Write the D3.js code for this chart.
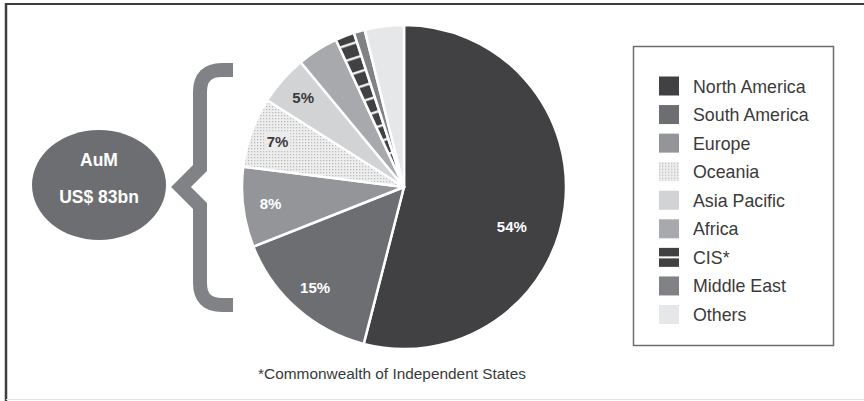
<!DOCTYPE html>
<html>
<head>
<meta charset="utf-8">
<script src="https://cdn.jsdelivr.net/npm/d3@7"></script>
<style>
  html, body { margin: 0; padding: 0; background: #fff; }
  svg { display: block; font-family: "Liberation Sans", Arial, sans-serif; }
</style>
</head>
<body>
<div id="chart"></div>
<script>
// --- Data ---
const regions = ["North America", "South America", "Europe", "Oceania", "Asia Pacific", "Africa", "CIS*", "Middle East", "Others"];
const shares = [54, 15, 8, 7, 5, 4.1, 1.9, 1.1, 3.9];
const sliceLabels = ["54%", "15%", "8%", "7%", "5%", "", "", "", ""];
const fills = ["#414042", "#6d6e71", "#939598", "url(#dots)", "#d1d3d4", "#a7a9ac", "url(#rungs)", "#808285", "#e6e7e8"];
const labelColors = ["#fff", "#fff", "#fff", "#3a3a3a", "#3a3a3a"];
const aumLines = ["AuM", "US$ 83bn"];
const footnote = "*Commonwealth of Independent States";

const width = 864, height = 401;
const cx = 404, cy = 187, radius = 162;

const svg = d3.select("#chart").append("svg")
  .attr("width", width)
  .attr("height", height);

// --- Patterns ---
const defs = svg.append("defs");

const dots = defs.append("pattern")
  .attr("id", "dots")
  .attr("patternUnits", "userSpaceOnUse")
  .attr("width", 3)
  .attr("height", 3);
dots.append("rect").attr("width", 3).attr("height", 3).attr("fill", "#eeeeee");
dots.append("rect").attr("width", 1.3).attr("height", 1.3).attr("fill", "#bbbcbe");

const rungs = defs.append("pattern")
  .attr("id", "rungs")
  .attr("patternUnits", "userSpaceOnUse")
  .attr("width", 20)
  .attr("height", 14.5)
  .attr("patternTransform", "rotate(-18)");
rungs.append("rect").attr("width", 20).attr("height", 14.5).attr("fill", "#414042");
rungs.append("rect").attr("y", 6).attr("width", 20).attr("height", 2.2).attr("fill", "#fff");

// --- Frame ---
svg.append("line")
  .attr("x1", 5).attr("x2", width).attr("y1", 4).attr("y2", 4)
  .attr("stroke", "#3d3d3d").attr("stroke-width", 2);
svg.append("line")
  .attr("x1", 6).attr("x2", 6).attr("y1", 3).attr("y2", height)
  .attr("stroke", "#3d3d3d").attr("stroke-width", 2.5);
svg.append("line")
  .attr("x1", 6).attr("x2", width).attr("y1", 399.5).attr("y2", 399.5)
  .attr("stroke", "#e2e2e2").attr("stroke-width", 1);

// --- Pie ---
const pie = d3.pie().sort(null).value(d => d);
const arcs = pie(shares);
const arc = d3.arc().innerRadius(0).outerRadius(radius);

const pieG = svg.append("g").attr("transform", `translate(${cx},${cy})`);

pieG.selectAll("path.slice")
  .data(arcs)
  .join("path")
  .attr("class", "slice")
  .attr("d", arc)
  .attr("fill", (d, i) => fills[i])
  .attr("stroke", "#fff")
  .attr("stroke-width", 2.5)
  .attr("stroke-linejoin", "round");

// labels: on a ring at ~0.83 r; the big slice gets pushed lower into its visual centre
const labelArc = d3.arc().innerRadius(radius * 0.83).outerRadius(radius * 0.83);
const labelPos = (d, i) => {
  if (i === 0) {
    const a = (d.startAngle + d.endAngle) / 2 + 0.23;
    const r = radius * 0.71;
    return [Math.sin(a) * r, -Math.cos(a) * r];
  }
  return labelArc.centroid(d);
};

// light box behind the label sitting on the dotted slice
arcs.forEach((d, i) => {
  if (fills[i] === "url(#dots)" && sliceLabels[i]) {
    const [x, y] = labelPos(d, i);
    pieG.append("rect")
      .attr("x", x - 13).attr("y", y - 9)
      .attr("width", 26).attr("height", 18)
      .attr("fill", "#ebebeb");
  }
});

pieG.selectAll("text.slice-label")
  .data(arcs)
  .join("text")
  .attr("class", "slice-label")
  .attr("transform", (d, i) => `translate(${labelPos(d, i)})`)
  .attr("text-anchor", "middle")
  .attr("dy", "0.36em")
  .attr("font-size", "15px")
  .attr("font-weight", "bold")
  .attr("fill", (d, i) => labelColors[i] || "#fff")
  .text((d, i) => sliceLabels[i]);

// --- Brace ---
const brace = d3.path();
brace.moveTo(233, 70);
brace.lineTo(222, 70);
brace.quadraticCurveTo(200, 70, 200, 92);
brace.lineTo(200, 168);
brace.lineTo(181, 187);
brace.lineTo(200, 206);
brace.lineTo(200, 283);
brace.quadraticCurveTo(200, 305, 222, 305);
brace.lineTo(233, 305);

svg.append("path")
  .attr("d", brace.toString())
  .attr("fill", "none")
  .attr("stroke", "#808285")
  .attr("stroke-width", 14)
  .attr("stroke-linejoin", "miter");

// --- AuM bubble ---
svg.append("ellipse")
  .attr("cx", 99).attr("cy", 185)
  .attr("rx", 67).attr("ry", 55)
  .attr("fill", "#6d6e71");

svg.selectAll("text.aum")
  .data(aumLines)
  .join("text")
  .attr("class", "aum")
  .attr("x", 99)
  .attr("y", (d, i) => 166 + i * 37)
  .attr("text-anchor", "middle")
  .attr("font-size", "17.5px")
  .attr("font-weight", "bold")
  .attr("fill", "#fff")
  .text(d => d);

// --- Legend ---
svg.append("rect")
  .attr("x", 633.5).attr("y", 46.5)
  .attr("width", 200).attr("height", 299)
  .attr("fill", "#fff")
  .attr("stroke", "#6d6e71")
  .attr("stroke-width", 1.5);

const legendY = d3.scalePoint()
  .domain(regions)
  .range([86, 314.5]);

const legend = svg.append("g").attr("class", "legend");

const item = legend.selectAll("g.item")
  .data(regions)
  .join("g")
  .attr("class", "item")
  .attr("transform", d => `translate(659,${legendY(d)})`);

item.append("rect")
  .attr("x", 0).attr("y", -9.5)
  .attr("width", 20).attr("height", 19)
  .attr("fill", (d, i) => fills[i] === "url(#rungs)" ? "#414042" : fills[i]);

// CIS swatch: single white rung through the middle
item.filter((d, i) => fills[i] === "url(#rungs)")
  .append("rect")
  .attr("x", 0).attr("y", -1)
  .attr("width", 20).attr("height", 2)
  .attr("fill", "#fff");

item.append("text")
  .attr("x", 34)
  .attr("y", 6.5)
  .attr("font-size", "17.8px")
  .attr("fill", "#3a3a3a")
  .text(d => d);

// --- Footnote ---
svg.append("text")
  .attr("x", 392)
  .attr("y", 379)
  .attr("text-anchor", "middle")
  .attr("font-size", "15.4px")
  .attr("fill", "#3a3a3a")
  .text(footnote);
</script>
</body>
</html>
